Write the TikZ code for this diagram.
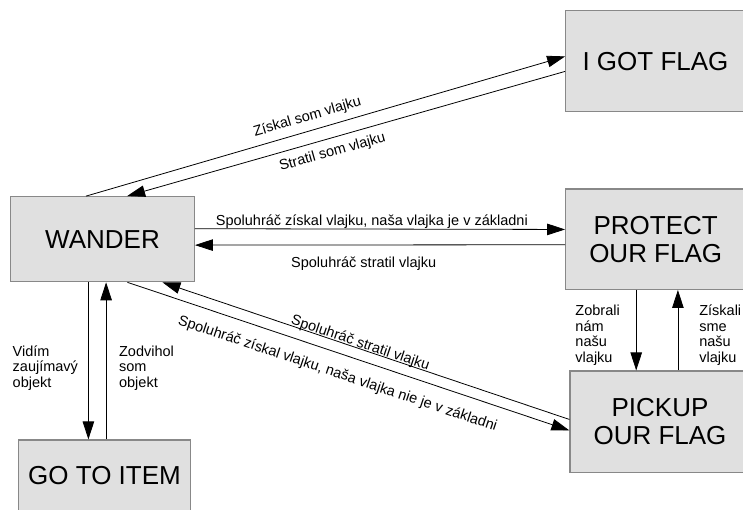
\documentclass[tikz,border=0pt]{standalone}
\usepackage{fontspec}
\setmainfont{Liberation Sans}
\usetikzlibrary{arrows.meta,positioning}
\definecolor{stategray}{RGB}{224,224,224}
\definecolor{stateedge}{RGB}{136,136,136}

\begin{document}
\begin{tikzpicture}[x=1pt,y=-1pt,
    state/.style={draw=stateedge, line width=1.2pt, fill=stategray, inner sep=0pt,
        align=center, font=\fontsize{26}{27.7}\selectfont},
    trans/.style={line width=0.8pt, -{Triangle[length=18pt,width=11.5pt]}},
    lbl/.style={font=\fontsize{14.5}{15.5}\selectfont, inner sep=2pt}]
    \useasboundingbox (0,0) rectangle (743,509);
    \clip (0,0) rectangle (743,509);

    % States
    \node[state, minimum width=179.6pt, minimum height=101pt] (gotflag) at (655.5,61.2) {I GOT FLAG};
    \node[state, minimum width=183.6pt, minimum height=85pt] (wander) at (102.5,239.2) {WANDER};
    \node[state, minimum width=180pt, minimum height=100.3pt] (protect) at (655.7,239.2) {PROTECT\\OUR FLAG};
    \node[state, minimum width=180pt, minimum height=101.3pt] (pickup) at (660,421.7) {PICKUP\\OUR FLAG};
    \node[state, minimum width=172.4pt, minimum height=72pt] (gotoitem) at (104.5,476) {GO TO ITEM};

    % Wander <-> I got flag
    \draw[trans] ([xshift=76pt]wander.north west) -- node[lbl, pos=0.47, sloped, above=4.5pt] {Získal som vlajku} ([yshift=-46.3pt]gotflag.north west);
    \draw[trans] ([yshift=-61.3pt]gotflag.north west) -- node[lbl, pos=0.54, sloped, below=5pt] {Stratil som vlajku} ([xshift=117pt]wander.north west);

    % Wander <-> protect our flag
    \draw[trans] ([yshift=-32.6pt]wander.north east) -- node[lbl, inner sep=0pt, pos=0.478, above] {Spoluhráč získal vlajku, naša vlajka je v základni} ([yshift=-41pt]protect.north west);
    \draw[trans] ([yshift=-56.3pt]protect.north west) -- node[lbl, pos=0.544, below=9pt] {Spoluhráč stratil vlajku} ([yshift=-49pt]wander.north east);

    % Wander <-> pickup our flag
    \draw[trans] ([xshift=117.3pt]wander.south west) -- node[lbl, pos=0.49, sloped, below=11pt] {Spoluhráč získal vlajku, naša vlajka nie je v základni} ([yshift=-60pt]pickup.north west);
    \draw[trans] ([yshift=-49pt]pickup.north west) -- node[lbl, inner sep=0pt, pos=0.518, sloped, above=-2pt] {Spoluhráč stratil vlajku} ([xshift=152.3pt]wander.south west);

    % Protect <-> pickup
    \draw[trans] ([xshift=71.1pt]protect.south west) -- node[lbl, pos=0.56, left=14pt, align=left] {Zobrali\\nám\\našu\\vlajku} ([xshift=66.8pt]pickup.north west);
    \draw[trans] ([xshift=108.5pt]pickup.north west) -- node[lbl, pos=0.44, right=19pt, align=left] {Získali\\sme\\našu\\vlajku} ([xshift=112.8pt]protect.south west);

    % Wander <-> go to item
    \draw[trans] ([xshift=78.3pt]wander.south west) -- node[lbl, pos=0.544, left=8pt, align=left] {Vidím\\zaujímavý\\objekt} ([xshift=70.7pt]gotoitem.north west);
    \draw[trans] ([xshift=88.4pt]gotoitem.north west) -- node[lbl, pos=0.456, right=10.6pt, align=left] {Zodvihol\\som\\objekt} ([xshift=96pt]wander.south west);
\end{tikzpicture}
\end{document}
